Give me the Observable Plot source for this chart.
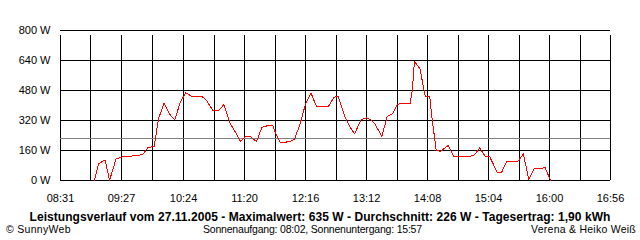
<!DOCTYPE html>
<html>
<head>
<meta charset="utf-8">
<script src="https://cdn.jsdelivr.net/npm/d3@7"></script>
<script src="https://cdn.jsdelivr.net/npm/@observablehq/plot@0.6"></script>
<style>
  html, body { margin: 0; padding: 0; background: #fff; }
  #wrap { position: relative; width: 640px; height: 240px; overflow: hidden; font-family: "Liberation Sans", Arial, sans-serif; }
  #chart { position: absolute; left: 0; top: 0; }
  .txt { position: absolute; font-size: 10.5px; line-height: 9px; color: #000; white-space: nowrap; }
  #title { left: 0; width: 640px; top: 211.6px; text-align: center; font-weight: bold; font-size: 12px; line-height: 10px; letter-spacing: 0.05px; }
  #left { left: 6px; top: 224.7px; letter-spacing: 0.3px; }
  #mid { left: 203px; top: 224.7px; letter-spacing: -0.2px; }
  #right { right: 4px; top: 224.7px; letter-spacing: 0.25px; }
</style>
</head>
<body>
<div id="wrap">
  <div id="chart"></div>
  <div id="title" class="txt"></div>
  <div id="left" class="txt"></div>
  <div id="mid" class="txt"></div>
  <div id="right" class="txt"></div>
</div>
<script>
// ---- data ----
const times = ["09:02","09:06","09:12","09:16","09:22","09:29","09:43","09:47","09:51","09:57",
  "10:01","10:06","10:12","10:16","10:21","10:26","10:32","10:41","10:45","10:51",
  "10:56","11:01","11:07","11:12","11:16","11:21","11:25","11:31","11:36","11:41",
  "11:46","11:49","11:53","12:02","12:06","12:11","12:16","12:21","12:26","12:37",
  "12:42","12:46","12:52","12:56","13:01","13:07","13:12","13:16","13:20","13:26",
  "13:31","13:36","13:40","13:42","13:52","13:54","13:56","14:01","14:06","14:10",
  "14:12","14:16","14:20","14:27","14:32","14:47","14:51","14:56","15:01","15:05",
  "15:12","15:16","15:21","15:31","15:36","15:41","15:46","15:56","16:01"];
const watts = [0,89,110,0,115,128,133,142,174,183,
  329,412,347,324,418,467,448,448,427,373,
  373,404,302,254,208,236,235,208,284,292,
  292,245,201,208,222,302,409,467,395,395,
  444,450,341,293,249,324,334,324,299,235,
  341,356,404,409,409,480,635,596,448,448,
  338,160,155,187,128,128,137,174,128,128,
  44,44,103,103,142,5,62,68,0];

const xTickLabels = ["08:31","09:27","10:24","11:20","12:16","13:12","14:08","15:04","16:00","16:56"];
const yTicks = [0,160,320,480,640,800];
const averageW = 226;
const maxW = 635;
const dayYield = "1,90";
const dateText = "27.11.2005";
const sunrise = "08:02";
const sunset = "15:57";
const leftFooter = "© SunnyWeb";
const rightFooter = "Verena & Heiko Weiß";

// ---- build ----
const toMin = s => { const [h, m] = s.split(":").map(Number); return h * 60 + m; };
const data = times.map((t, i) => ({t: toMin(t), w: watts[i]}));
const labelMins = xTickLabels.map(toMin);
const gridMins = [];
labelMins.forEach((m, i) => {
  gridMins.push(m);
  if (i < labelMins.length - 1) gridMins.push((m + labelMins[i + 1]) / 2);
});
const labelMap = new Map(labelMins.map((m, i) => [m, xTickLabels[i]]));
const x0 = labelMins[0], x1 = labelMins[labelMins.length - 1];

const chart = Plot.plot({
  width: 640,
  height: 210,
  marginLeft: 60,
  marginRight: 30,
  marginTop: 30,
  marginBottom: 30,
  style: {fontFamily: "'Liberation Sans', Arial, sans-serif", fontSize: "11px", color: "#000", background: "#fff"},
  x: {domain: [x0, x1]},
  y: {domain: [0, 800]},
  marks: [
    Plot.ruleY(yTicks, {x1: x0, x2: x1, stroke: "#000", strokeWidth: 1, shapeRendering: "crispEdges"}),
    Plot.ruleX(gridMins, {y1: 0, y2: 800, insetBottom: -5, stroke: "#000", strokeWidth: 1, shapeRendering: "crispEdges"}),
    Plot.ruleY([averageW], {x1: x0, x2: x1, stroke: "#808080", strokeWidth: 1, shapeRendering: "crispEdges"}),
    Plot.line(data, {x: "t", y: "w", stroke: "#ff0000", strokeWidth: 1, shapeRendering: "crispEdges"}),
    Plot.axisY({ticks: yTicks, tickSize: 0, tickPadding: 10, tickFormat: d => d + " W", label: null, fill: "#000"}),
    Plot.axisX({ticks: labelMins, tickSize: 0, tickPadding: 14, tickFormat: d => labelMap.get(d), label: null, fill: "#000"})
  ]
});
document.getElementById("chart").appendChild(chart);

document.getElementById("title").textContent =
  `Leistungsverlauf vom ${dateText} - Maximalwert: ${maxW} W - Durchschnitt: ${averageW} W - Tagesertrag: ${dayYield} kWh`;
document.getElementById("left").textContent = leftFooter;
document.getElementById("mid").textContent = `Sonnenaufgang: ${sunrise}, Sonnenuntergang: ${sunset}`;
document.getElementById("right").textContent = rightFooter;
</script>
</body>
</html>
